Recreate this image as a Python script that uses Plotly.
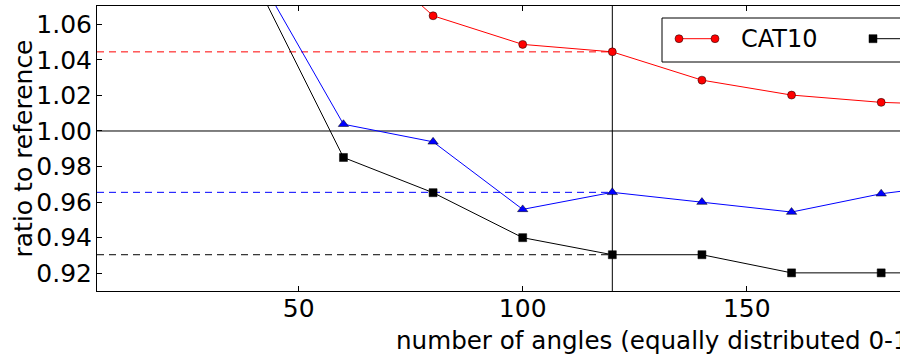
import plotly.graph_objects as go

# Number of projection angles used for each reconstruction
angles = [40, 60, 80, 100, 120, 140, 160, 180, 200]

# Ratio of the reconstructed value to the reference, per method
cat10 = [None, 1.110, 1.0648, 1.0487, 1.0445, 1.0286, 1.0202, 1.0161, 1.0144]
blue_series = [1.092, 1.0038, 0.9939, 0.9559, 0.9655, 0.9600, 0.9544, 0.9647, 0.9710]
black_series = [1.086, 0.9851, 0.9653, 0.9400, 0.9304, 0.9304, 0.9202, 0.9202, 0.9202]

# Chosen number of angles (marked with a vertical line and dashed levels)
chosen_angles = 120

x_range = [5, 184.2]
y_range = [0.91, 1.0703]
x_ticks = [50, 100, 150]
y_ticks = [0.92, 0.94, 0.96, 0.98, 1.00, 1.02, 1.04, 1.06]

x_title = "number of angles (equally distributed 0-180°)"
y_title = "ratio to reference"
legend_label = "CAT10"

W, H = 900, 354
ML, MR, MT, MB = 97, 0, 6, 63
PW, PH = W - ML - MR, H - MT - MB
FONT = "DejaVu Sans"


def px_x(p):
    return (p - ML) / PW


def px_y(p):
    return (H - MB - p) / PH


series = [
    (cat10, "#ff0000", "circle", 8),
    (blue_series, "#0000ff", "triangle-up", 9),
    (black_series, "#000000", "square", 8),
]

fig = go.Figure()

shapes = []
# Reference level and chosen angle count
shapes.append(dict(type="line", xref="paper", yref="y", x0=0, x1=1, y0=1.0, y1=1.0,
                   line=dict(color="black", width=1), layer="below"))
shapes.append(dict(type="line", xref="x", yref="paper", x0=chosen_angles, x1=chosen_angles,
                   y0=0, y1=1, line=dict(color="black", width=1), layer="below"))

idx = angles.index(chosen_angles)
for vals, color, symbol, size in series:
    level = vals[idx]
    shapes.append(dict(type="line", xref="x", yref="y", x0=x_range[0], x1=chosen_angles,
                       y0=level, y1=level,
                       line=dict(color=color, width=1, dash="7px,5px"), layer="below"))
    fig.add_trace(go.Scatter(
        x=angles, y=vals, mode="lines+markers",
        line=dict(color=color, width=1),
        marker=dict(symbol=symbol, size=size, color=color,
                    line=dict(color="black", width=0.5)),
        showlegend=False,
    ))

# Legend frame and entries
leg_y = px_y(38.7)
shapes.append(dict(type="rect", xref="paper", yref="paper",
                   x0=px_x(662), x1=px_x(960), y0=px_y(62), y1=px_y(18),
                   fillcolor="white", line=dict(color="black", width=1), layer="above"))
shapes.append(dict(type="line", xref="paper", yref="paper",
                   x0=px_x(679), x1=px_x(715), y0=leg_y, y1=leg_y,
                   line=dict(color="#ff0000", width=1), layer="above"))
for cx in (679, 715):
    shapes.append(dict(type="circle", xref="paper", yref="paper",
                       xsizemode="pixel", ysizemode="pixel",
                       xanchor=px_x(cx), yanchor=leg_y, x0=-4, x1=4, y0=-4, y1=4,
                       fillcolor="#ff0000", line=dict(color="black", width=0.5),
                       layer="above"))
shapes.append(dict(type="line", xref="paper", yref="paper",
                   x0=px_x(873), x1=px_x(960), y0=leg_y, y1=leg_y,
                   line=dict(color="black", width=1), layer="above"))
shapes.append(dict(type="rect", xref="paper", yref="paper",
                   xsizemode="pixel", ysizemode="pixel",
                   xanchor=px_x(873), yanchor=leg_y, x0=-4, x1=4, y0=-4, y1=4,
                   fillcolor="black", line=dict(color="black", width=0.5),
                   layer="above"))

annotations = [
    dict(text=legend_label, xref="paper", yref="paper", x=px_x(739), y=leg_y,
         xanchor="left", yanchor="middle", showarrow=False,
         font=dict(family=FONT, size=24, color="black")),
    dict(text=x_title, xref="paper", yref="paper", x=px_x(394), y=px_y(340),
         xanchor="left", yanchor="middle", showarrow=False,
         font=dict(family=FONT, size=24.6, color="black")),
    dict(text=y_title, xref="paper", yref="paper", x=px_x(23), y=0.5,
         xanchor="center", yanchor="middle", textangle=-90, showarrow=False,
         font=dict(family=FONT, size=25, color="black")),
]

fig.update_layout(
    width=W, height=H,
    margin=dict(l=ML, r=MR, t=MT, b=MB),
    paper_bgcolor="white", plot_bgcolor="white",
    font=dict(family=FONT, size=25, color="black"),
    shapes=shapes, annotations=annotations,
    showlegend=False,
)
fig.update_xaxes(
    range=x_range, tickvals=x_ticks, ticks="inside", ticklen=5, tickcolor="black",
    showline=True, linecolor="black", linewidth=1, mirror="ticks",
    showgrid=False, zeroline=False, ticklabelstandoff=-5,
    tickfont=dict(family=FONT, size=25, color="black"),
)
fig.update_yaxes(
    range=y_range, tickvals=y_ticks, tickformat=".2f", ticks="inside", ticklen=5,
    tickcolor="black", showline=True, linecolor="black", linewidth=1,
    showgrid=False, zeroline=False, ticklabelstandoff=-1,
    tickfont=dict(family=FONT, size=25, color="black"),
)

fig.write_html("out.html")
